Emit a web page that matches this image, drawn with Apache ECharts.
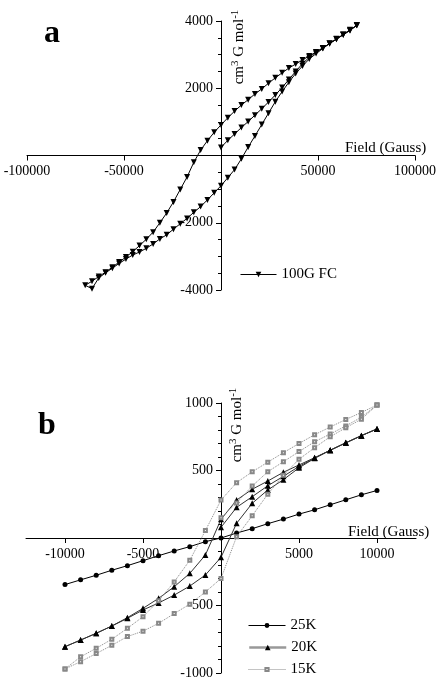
<!DOCTYPE html>
<html>
<head>
<meta charset="utf-8">
<script src="https://cdn.jsdelivr.net/npm/echarts@6/dist/echarts.min.js"></script>
<style>html,body{margin:0;padding:0;background:#fff}#c{width:445px;height:677px}</style>
</head>
<body>
<div id="c"></div>
<script>
// ---------- Panel a: 100G FC hysteresis ----------
const fieldA_init = [0,3500,7000,10500,14000,17500,21000,24500,28000,31500,35000,38500,42000,45500,49000,52500,56000,59500,63000,66500,70000];
const momA_init   = [240,450,640,830,1010,1200,1390,1590,1800,2020,2260,2500,2730,2920,3070,3200,3330,3460,3590,3720,3870];
const fieldA_desc = [70000,66500,63000,59500,56000,52500,49000,45500,42000,38500,35000,31500,28000,24500,21000,17500,14000,10500,7000,3500,0,-3500,-7000,-10500,-14000,-17500,-21000,-24500,-28000,-31500,-35000,-38500,-42000,-45500,-49000,-52500,-56000,-59500,-63000,-66500,-70000];
const momA_desc   = [3870,3720,3590,3460,3330,3200,3080,2960,2840,2720,2600,2460,2310,2150,1980,1830,1660,1500,1320,1120,910,690,440,160,-200,-640,-1010,-1380,-1710,-2000,-2280,-2490,-2680,-2860,-3020,-3170,-3320,-3470,-3600,-3740,-3860];
const fieldA_asc  = [-66500,-63000,-59500,-56000,-52500,-49000,-45500,-42000,-38500,-35000,-31500,-28000,-24500,-21000,-17500,-14000,-10500,-7000,-3500,0,3500,7000,10500,14000,17500,21000,24500,28000,31500,35000,38500,42000,45500,49000,52500,56000,59500,63000,66500,70000];
const momA_asc    = [-3960,-3640,-3490,-3350,-3210,-3080,-2960,-2870,-2760,-2630,-2480,-2360,-2190,-2030,-1870,-1690,-1520,-1320,-1110,-900,-660,-420,-100,250,580,920,1260,1600,1900,2180,2440,2660,2870,3030,3180,3330,3470,3600,3740,3870];

// ---------- Panel b: 25K, 20K, 15K ----------
const fieldB_up   = [-10000,-9000,-8000,-7000,-6000,-5000,-4000,-3000,-2000,-1000,0,1000,2000,3000,4000,5000,6000,7000,8000,9000,10000];
const fieldB_down = [10000,9000,8000,7000,6000,5000,4000,3000,2000,1000,0,-1000,-2000,-3000,-4000,-5000,-6000,-7000,-8000,-9000,-10000];
const fieldB_init = [0,1000,2000,3000,4000,5000,6000,7000,8000,9000,10000];

const m25      = [-345,-310,-276,-239,-205,-168,-131,-96,-64,-27,0,37,69,106,140,177,209,246,283,320,352];

const m20_init = [79,227,306,387,457,530,592,650,705,758,808];
const m20_desc = [808,758,705,650,595,541,487,422,361,281,138,-126,-262,-361,-447,-521,-590,-652,-706,-756,-805];
const m20_asc  = [-805,-756,-706,-652,-595,-533,-481,-423,-356,-274,-143,109,257,356,432,520,590,650,705,758,808];

const m15_init = [150,260,385,491,565,640,713,770,830,895,985];
const m15_desc = [985,930,878,822,765,700,632,562,490,410,281,55,-165,-325,-465,-583,-669,-750,-817,-880,-970];
const m15_asc  = [-970,-916,-856,-795,-730,-690,-632,-560,-490,-400,-300,10,165,325,465,583,669,750,817,880,985];

// tick labels
const xTicksA = [-100000,-50000,50000,100000];
const xTicksB = [-10000,-5000,5000,10000];

function pairs(xs, ys){ return xs.map((x,i)=>[x, ys[i]]); }

const SERIF = 'Liberation Serif';
const black = '#000';

function xAxisCfg(grid, min, max, ticks, off){
  return {
    type:'value', gridIndex:grid, min:min, max:max, position:'bottom', offset:off,
    axisLine:{onZero:false, lineStyle:{color:black, width:1}},
    axisTick:{show:true, length:5, customValues:ticks, lineStyle:{color:black}},
    axisLabel:{customValues:ticks, color:black, fontFamily:SERIF, fontSize:14, margin:9,
      formatter:v=> v===0 ? '' : String(v)},
    splitLine:{show:false}
  };
}
function yAxisCfg(grid, min, max, interval, minorSplit, off){
  return {
    type:'value', gridIndex:grid, min:min, max:max, interval:interval, position:'left', offset:off,
    axisLine:{onZero:false, lineStyle:{color:black, width:1}},
    axisTick:{show:true, length:5, lineStyle:{color:black}},
    minorTick:{show:true, splitNumber:minorSplit, length:3, lineStyle:{color:black}},
    axisLabel:{color:black, fontFamily:SERIF, fontSize:14, margin:8,
      formatter:v=> v===0 ? '' : String(v)},
    splitLine:{show:false}, minorSplitLine:{show:false}
  };
}

const chart = echarts.init(document.getElementById('c'), null, {renderer:'canvas'});
const ylabelRich = {
  n:{fontFamily:SERIF, fontSize:15, color:black, verticalAlign:'middle', lineHeight:18},
  s:{fontFamily:SERIF, fontSize:11, color:black, verticalAlign:'top', lineHeight:18}
};
const legendText = {fontFamily:SERIF, fontSize:15, color:black};

chart.setOption({
  animation:false,
  backgroundColor:'#fff',
  grid:[
    {left:27, top:21, width:388, height:269, containLabel:false, outerBoundsMode:'none'},
    {left:26, top:403, width:390, height:270, containLabel:false, outerBoundsMode:'none'}
  ],
  xAxis:[ xAxisCfg(0,-100000,100000,xTicksA,-134.5), xAxisCfg(1,-12500,12500,xTicksB,-135) ],
  yAxis:[ yAxisCfg(0,-4000,4000,2000,4,-194), yAxisCfg(1,-1000,1000,500,5,-195) ],
  legend:[
    {data:[{name:'100G FC', lineStyle:{width:1}}], left:240, top:267, padding:0, itemWidth:36, itemHeight:7, textStyle:legendText},
    {data:[{name:'25K', lineStyle:{width:1}}], left:248, top:618, padding:0, itemWidth:37, itemHeight:6, textStyle:legendText},
    {data:[{name:'20K', lineStyle:{color:'#999', width:2.5}}], left:248, top:640, padding:0, itemWidth:37, itemHeight:7, textStyle:legendText},
    {data:[{name:'15K', lineStyle:{width:1, type:'dotted', color:'#888'}}], left:248, top:662, padding:0, itemWidth:37, itemHeight:4, textStyle:legendText}
  ],
  series:[
    {name:'100G FC', type:'line', xAxisIndex:0, yAxisIndex:0,
     data:[...pairs(fieldA_init,momA_init), ...pairs(fieldA_desc,momA_desc), ...pairs(fieldA_asc,momA_asc)],
     symbol:'triangle', symbolRotate:180, symbolSize:6, showAllSymbol:true,
     lineStyle:{color:black, width:1}, itemStyle:{color:black}},
    {name:'25K', type:'line', xAxisIndex:1, yAxisIndex:1,
     data:pairs(fieldB_up, m25),
     symbol:'circle', symbolSize:5, showAllSymbol:true,
     lineStyle:{color:black, width:1}, itemStyle:{color:black}},
    {name:'20K', type:'line', xAxisIndex:1, yAxisIndex:1,
     data:[...pairs(fieldB_init,m20_init), ...pairs(fieldB_down,m20_desc), ...pairs(fieldB_up,m20_asc)],
     symbol:'triangle', symbolSize:6, showAllSymbol:true,
     lineStyle:{color:'#333', width:1}, itemStyle:{color:black}},
    {name:'15K', type:'line', xAxisIndex:1, yAxisIndex:1,
     data:[...pairs(fieldB_init,m15_init), ...pairs(fieldB_down,m15_desc), ...pairs(fieldB_up,m15_asc)],
     symbol:'emptyRect', symbolSize:3, showAllSymbol:true,
     lineStyle:{color:'#888', width:1, type:'dotted'}, itemStyle:{color:'#888', borderColor:'#888', borderWidth:0.8}}
  ],
  graphic:[
    {type:'text', left:44, top:18, style:{text:'a', fontFamily:SERIF, fontWeight:'bold', fontSize:32, fill:black}},
    {type:'text', left:38, top:410, style:{text:'b', fontFamily:SERIF, fontWeight:'bold', fontSize:32, fill:black}},
    {type:'text', x:345, y:148, style:{text:'Field (Gauss)', fontFamily:SERIF, fontSize:15, fill:black, align:'left', verticalAlign:'middle'}},
    {type:'text', x:348, y:532, style:{text:'Field (Gauss)', fontFamily:SERIF, fontSize:15, fill:black, align:'left', verticalAlign:'middle'}},
    {type:'text', x:239, y:47, rotation:Math.PI/2,
     style:{text:'{n|cm}{s|3}{n| G mol}{s|-1}', rich:ylabelRich, align:'center', verticalAlign:'middle'}},
    {type:'text', x:237, y:425, rotation:Math.PI/2,
     style:{text:'{n|cm}{s|3}{n| G mol}{s|-1}', rich:ylabelRich, align:'center', verticalAlign:'middle'}}
  ]
});
</script>
</body>
</html>
